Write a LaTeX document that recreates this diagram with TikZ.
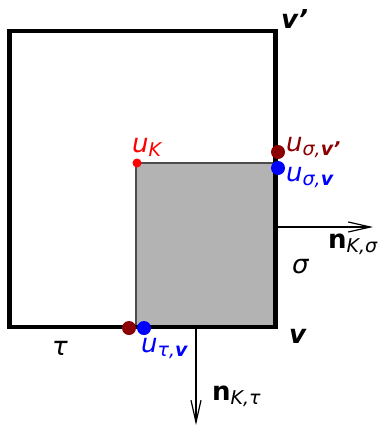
\documentclass[tikz,border=0pt]{standalone}
\usepackage{fontspec}
\setmainfont{DejaVu Sans}
\usetikzlibrary{arrows.meta, positioning}
\definecolor{dotRed}{HTML}{FF0000}
\definecolor{dotDark}{HTML}{8B0000}
\definecolor{dotBlue}{HTML}{0000FF}
\definecolor{cellGray}{HTML}{B3B3B3}
\newcommand{\sbs}[1]{\raisebox{-4pt}{\fontsize{19}{19}\selectfont #1}}
\newcommand{\bv}{\textbf{\textit{v}}}
\newcommand{\bvp}{\textbf{\textit{v\symbol{"27}}}}
\tikzset{
  arrowN/.style={-{Straight Barb[length=22pt, width=10pt]}, black, line width=1.2pt},
  dotS/.style={circle, fill=dotRed, inner sep=0pt, minimum size=9pt},
  dotL/.style={circle, inner sep=0pt, minimum size=14pt},
  lbl/.style={inner sep=0pt, anchor=base west, font=\fontsize{26}{30}\selectfont},
}
\begin{document}
\begin{tikzpicture}[x=1pt, y=-1pt]
  \useasboundingbox (0,0) rectangle (384,426);
  % Celda K (gris)
  \draw[fill=cellGray, draw=black!70, line width=1.2pt] (136,163) rectangle (276,327);
  % Celda exterior
  \draw[line width=4.8pt] (9.5,31) rectangle (275.5,327);
  % Normales
  \coordinate (sigMid) at (276,227);
  \coordinate (sigEnd) at (373,227);
  \coordinate (tauMid) at (196,327);
  \coordinate (tauEnd) at (196,425);
  \draw[arrowN] (sigMid) -- (sigEnd);
  \draw[arrowN] (tauMid) -- (tauEnd);
  % Incognitas
  \node[dotS] (uK) at (137,163) {};
  \node[dotL, fill=dotDark] (uSigVp) at (278,152) {};
  \node[dotL, fill=dotBlue] (uSigV) at (278,168) {};
  \node[dotL, fill=dotDark] (uTauVp) at (129,328) {};
  \node[dotL, fill=dotBlue] (uTauV) at (144,328) {};
  % Etiquetas
  \node[lbl, text=dotRed] (lK) at (132,152) {\textit{u}\sbs{\textit{K}}};
  \node[lbl, text=dotDark] (lSigVp) at (286,151) {\textit{u}\sbs{\textit{σ,}\bvp}};
  \node[lbl, text=dotBlue] (lSigV) at (286,181) {\textit{u}\sbs{\textit{σ,}\bv}};
  \node[lbl, text=dotBlue] (lTauV) at (141,352) {\textit{u}\sbs{\textit{τ,}\bv}};
  \node[lbl] (nSig) at (328,248) {\textbf{n}\sbs{\textit{K,σ}}};
  \node[lbl] (nTau) at (212,400) {\textbf{n}\sbs{\textit{K,τ}}};
  \node[lbl] (sig) at (292,273) {\textit{σ}};
  \node[lbl] (tau) at (52,355) {\textit{τ}};
  \node[lbl] (vx) at (289,343) {\bv};
  \node[lbl] (vxp) at (281,28) {\bvp};
\end{tikzpicture}
\end{document}
